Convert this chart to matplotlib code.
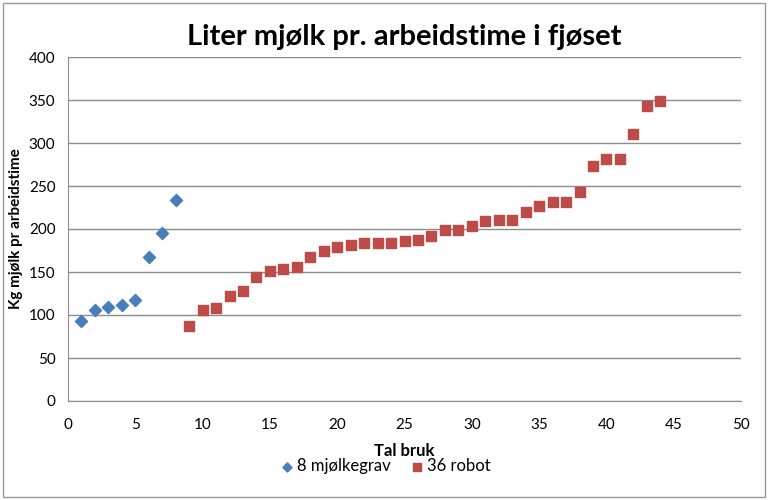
import matplotlib

matplotlib.use("Agg")
import matplotlib.pyplot as plt
from matplotlib.patches import Rectangle

plt.rcParams["font.family"] = ["Lato", "DejaVu Sans"]

# 8 farms with milking parlour, 36 farms with robot
grav_x = [1, 2, 3, 4, 5, 6, 7, 8]
grav_y = [93, 106, 109, 112, 117, 168, 195, 234]

robot_x = list(range(9, 45))
robot_y = [87, 106, 108, 122, 128, 144, 151, 153, 156, 167,
           174, 179, 181, 184, 184, 184, 186, 187, 192, 199,
           199, 203, 209, 210, 210, 220, 227, 231, 231, 243,
           273, 281, 281, 310, 343, 349]

x_ticks = [0, 5, 10, 15, 20, 25, 30, 35, 40, 45, 50]
y_ticks = [0, 50, 100, 150, 200, 250, 300, 350, 400]

fig = plt.figure(figsize=(7.68, 5.0), dpi=100)
fig.patches.append(Rectangle((0.004, 0.006), 0.992, 0.988, transform=fig.transFigure,
                             fill=False, edgecolor="#9a9a9a", linewidth=1.0))
ax = fig.add_axes([0.0885, 0.198, 0.8765, 0.688])

ax.scatter(grav_x, grav_y, marker="D", s=38, color="#4A7EBB", label="8 mjølkegrav", zorder=3)
ax.scatter(robot_x, robot_y, marker="s", s=58, color="#BE4B48", label="36 robot", zorder=3)

ax.set_xlim(0, 50)
ax.set_ylim(0, 400)
ax.set_xticks(x_ticks)
ax.set_yticks(y_ticks)
ax.tick_params(axis="both", labelsize=11, length=0)
ax.tick_params(axis="x", pad=12)
ax.tick_params(axis="y", pad=9)
ax.yaxis.grid(True, color="#8c8c8c", linewidth=1.0)
ax.set_axisbelow(True)
for side in ["top", "right"]:
    ax.spines[side].set_visible(False)
for side in ["left", "bottom"]:
    ax.spines[side].set_color("#8c8c8c")

ax.set_title("Liter mjølk pr. arbeidstime i fjøset", fontsize=21, fontweight="bold", pad=9)
ax.set_xlabel("Tal bruk", fontsize=12, fontweight="bold", labelpad=8)
ax.set_ylabel("Kg mjølk pr arbeidstime", fontsize=11, fontweight="bold", labelpad=4)

fig.legend(loc="center", bbox_to_anchor=(0.5, 0.068), ncol=2, frameon=False, fontsize=12,
           handletextpad=0.0, columnspacing=1.0, markerscale=0.75, handlelength=1.2)

fig.savefig("out.png", dpi=100)
